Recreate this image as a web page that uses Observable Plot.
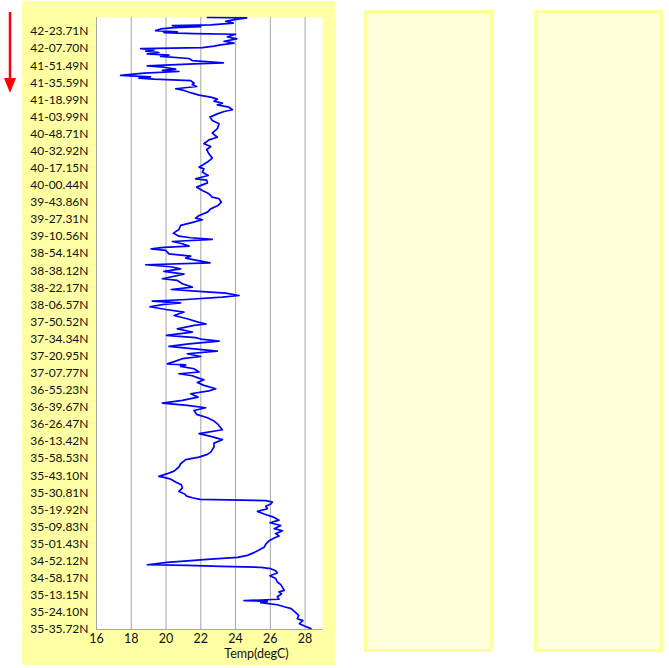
<!DOCTYPE html>
<html><head><meta charset="utf-8">
<script src="https://cdn.jsdelivr.net/npm/d3@7"></script>
<script src="https://cdn.jsdelivr.net/npm/@observablehq/plot@0.6"></script>
<style>
body{margin:0;background:#fff;}
#wrap{position:relative;width:669px;height:668px;overflow:hidden;font-family:Lato,sans-serif;}
.panel{position:absolute;box-sizing:border-box;background:#ffffdc;border:3px solid #ffff99;}
#chart{position:absolute;left:22px;top:1px;}
#arrow{position:absolute;left:0;top:0;}
</style></head><body>
<div id="wrap">
<svg id="arrow" width="22" height="100"><line x1="10" y1="12" x2="10" y2="80" stroke="#ff0000" stroke-width="2.5"/><polygon points="4,78 16,78 10,93" fill="#ff0000"/></svg>
<div id="chart"></div>
<div class="panel" style="left:364px;top:10px;width:129px;height:642px"></div>
<div class="panel" style="left:534px;top:10px;width:129px;height:642px"></div>
</div>
<script>
const latLabels = ["42-23.71N","42-07.70N","41-51.49N","41-35.59N","41-18.99N","41-03.99N","40-48.71N","40-32.92N","40-17.15N","40-00.44N","39-43.86N","39-27.31N","39-10.56N","38-54.14N","38-38.12N","38-22.17N","38-06.57N","37-50.52N","37-34.34N","37-20.95N","37-07.77N","36-55.23N","36-39.67N","36-26.47N","36-13.42N","35-58.53N","35-43.10N","35-30.81N","35-19.92N","35-09.83N","35-01.43N","34-52.12N","34-58.17N","35-13.15N","35-24.10N","35-35.72N"];
const xTicks = [16,18,20,22,24,26,28];
const xDomain = [16,29];
const yDomain = [350,-8.2];
const axisTitle = "Temp(degC)";
// track position (tenths of a label step) and temperature
const trackPos = [
-8.2,-8.0,-7.0,-5.9,-4.9,-3.9,-3.5,-2.9,-2.3,-1.5,-0.5,0.2,0.6,1.2,1.6,3.1,4.3,5.7,6.8,7.8,8.6,9.4,10.0,10.7,11.5,12.3,13.1,13.8,14.6,15.8,17.0,18.3,18.9,20.1,20.9,22.0,22.8,23.4,24.4,25.7,26.5,27.3,27.9,28.7,30.3,31.0,32.2,33.5,34.5,36.1,37.2,38.4,39.6,40.8,41.9,42.9,44.3,45.8,46.8,48.2,50.1,52.1,54.0,56.9,59.5,61.9,63.4,65.7,67.3,69.2,71.6,74.1,76.4,79.4,
80.4,82.3,84.3,86.2,87.0,88.6,91.1,93.0,95.0,96.9,97.9,99.9,101.8,103.8,105.7,107.7,109.2,110.2,112.0,113.5,115.9,118.0,119.8,120.7,121.7,122.9,124.2,125.6,126.4,127.2,128.1,130.1,131.5,132.6,133.8,135.4,136.5,137.7,138.9,140.4,142.0,144.7,145.7,147.6,149.6,151.0,152.1,153.1,154.5,155.5,157.0,157.8,158.8,159.7,161.1,162.7,164.2,166.2,168.1,170.1,
171.2,172.0,174.0,175.9,177.9,179.2,180.0,181.2,182.8,184.3,185.7,187.1,188.6,190.2,191.5,192.9,194.5,195.1,196.0,197.4,199.3,200.3,201.5,202.7,203.8,205.4,207.1,209.1,210.3,212.0,214.0,215.9,217.5,218.8,220.2,221.8,224.1,226.1,228.0,230.0,233.1,235.4,237.0,238.9,240.9,243.2,246.2,247.5,249.1,250.6,253.0,254.9,257.3,258.8,260.4,
261.0,261.8,263.7,265.3,267.2,269.2,270.7,271.9,272.9,273.8,274.6,275.4,276.6,277.9,279.3,280.9,282.4,284.4,286.0,287.5,289.1,291.0,292.2,293.9,295.3,296.4,298.0,300.0,301.9,303.5,305.0,306.6,307.8,308.8,309.5,310.7,312.1,312.5,313.0,313.6,314.4,315.6,316.9,318.5,320.2,322.2,323.7,327.1,328.0,329.2,330.8,332.3,333.1,333.5,334.3,335.5,336.7,337.8,339.8,341.7,343.7,344.8,346.6,348.0,349.5];
const tempC = [
22.38,24.64,23.95,23.43,23.87,22.57,20.36,22.0,20.46,19.69,19.4,20.65,19.88,21.61,24.0,23.53,24.07,23.34,23.91,23.14,22.76,22.09,18.54,19.31,18.83,19.59,18.92,20.17,19.69,21.32,21.51,23.30,21.61,18.92,19.88,20.55,19.79,20.74,18.73,17.39,19.11,18.44,19.31,21.42,21.61,21.51,21.76,20.55,21.03,21.51,21.9,22.57,22.95,22.76,23.24,22.95,23.62,23.82,23.34,22.95,22.53,22.66,23.05,22.95,22.66,22.95,22.47,22.18,22.57,22.34,22.47,22.66,22.38,21.9,
22.18,22.09,22.42,21.7,22.34,22.38,21.76,22.09,22.47,22.66,23.05,23.18,22.99,22.57,22.38,21.9,21.7,22.09,21.42,20.84,20.74,20.42,20.74,21.42,22.66,20.36,20.94,21.32,19.88,19.15,19.98,20.17,21.42,21.13,21.7,22.53,18.83,20.26,20.84,19.88,21.03,19.79,20.65,20.94,21.51,20.3,21.9,23.43,24.2,23.24,20.94,19.21,20.84,19.88,19.07,20.0,21.03,20.46,21.22,21.84,
22.3,21.61,20.65,21.51,20.03,21.7,22.0,23.05,21.32,20.17,21.61,22.95,21.22,21.99,20.94,20.55,20.07,21.13,20.84,21.61,21.9,20.74,21.51,21.84,22.18,21.8,22.18,22.86,22.47,21.42,21.84,20.94,19.79,21.22,22.28,21.61,21.76,22.38,22.76,22.99,23.24,21.9,22.57,23.24,22.76,22.76,22.57,22.38,21.9,21.13,20.84,20.74,20.46,20.07,19.59,
19.88,20.23,20.55,20.88,20.94,20.74,21.07,21.19,21.51,21.95,25.74,26.12,26.02,25.74,25.83,25.26,25.64,26.22,26.5,25.98,26.6,26.22,26.7,26.31,26.5,26.22,25.93,25.74,25.64,25.35,25.06,24.68,24.11,22.57,21.61,20.07,18.92,21.22,23.14,25.45,26.02,26.31,26.4,25.98,26.31,26.4,26.6,26.8,26.5,26.64,26.4,26.5,24.49,25.83,25.45,26.4,26.8,27.2,27.43,27.63,27.55,27.87,27.67,27.96,28.33];

const rows = trackPos.map((p, i) => ({pos: p, temp: tempC[i]}));
const labelPos = latLabels.map((_, i) => i * 10);

const chart = Plot.plot({
  width: 313, height: 664,
  marginLeft: 74, marginRight: 13, marginTop: 16, marginBottom: 36,
  style: {background: "#ffffa3", fontFamily: "Lato, sans-serif", fontSize: "12px", color: "#111"},
  x: {domain: xDomain},
  y: {domain: yDomain},
  marks: [
    Plot.frame({fill: "white", stroke: null}),
    Plot.ruleX(xTicks, {stroke: "#a6a6a6", strokeWidth: 1}),
    Plot.ruleY([yDomain[0]], {stroke: "#a6a6a6", strokeWidth: 1}),
    Plot.axisX({ticks: xTicks, tickSize: 0, tickPadding: 5, label: null, fontSize: 12.5}),
    Plot.axisY({ticks: labelPos, tickFormat: d => latLabels[Math.round(d / 10)], tickSize: 0, tickPadding: 8, label: null, fontSize: 12}),
    Plot.line(rows, {x: "temp", y: "pos", stroke: "#0000ff", strokeWidth: 1.7}),
    Plot.text([axisTitle], {frameAnchor: "bottom", lineAnchor: "middle", dx: 47, dy: 24, fontSize: 12.5, fill: "#111"})
  ]
});
document.getElementById("chart").appendChild(chart);
</script>
</body></html>
